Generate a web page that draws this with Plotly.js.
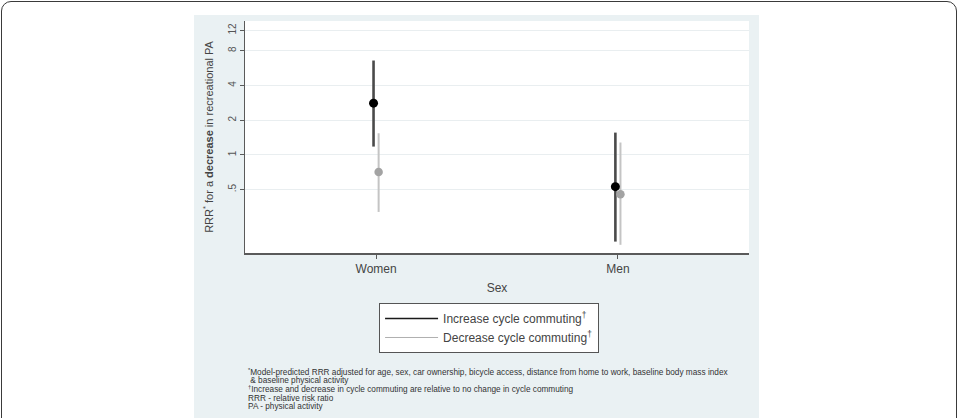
<!DOCTYPE html>
<html>
<head>
<meta charset="utf-8">
<script src="https://cdn.plot.ly/plotly-3.0.1.min.js"></script>
<style>
  html, body { margin: 0; padding: 0; background: #ffffff; width: 959px; height: 418px; overflow: hidden; }
  #frame { position: absolute; left: 1px; top: 1px; width: 954px; height: 440px; border: 1.5px solid #3a3a3a; border-radius: 10px; }
  #chart { position: absolute; left: 194px; top: 15px; width: 565px; height: 403px; }
</style>
</head>
<body>
<div id="frame"></div>
<div id="chart"></div>
<script>
// ---- data ----
const categories = ['Women', 'Men'];
const seriesNames = ['Increase cycle commuting<sup>†</sup>', 'Decrease cycle commuting<sup>†</sup>'];
const increaseEst = [2.81, 0.53];
const increaseLo  = [1.18, 0.177];
const increaseHi  = [6.58, 1.56];
const decreaseEst = [0.71, 0.456];
const decreaseLo  = [0.32, 0.166];
const decreaseHi  = [1.54, 1.28];
const yTickVals = [0.5, 1, 2, 4, 8, 12];
const yTickText = ['.5', '1', '2', '4', '8', '12'];
const footnotes = [
  '<sup>*</sup>Model-predicted RRR adjusted for age, sex, car ownership, bicycle access, distance from home to work, baseline body mass index',
  ' & baseline physical activity',
  '<sup>†</sup>Increase and decrease in cycle commuting are relative to no change in cycle commuting',
  'RRR - relative risk ratio',
  'PA - physical activity'
];

// ---- styling ----
const dodge = 0.0105;
const catPos = categories.map((c, i) => i + 1);

function ciTrace(name, lo, hi, off, color, width) {
  const x = [], y = [];
  catPos.forEach((p, i) => { x.push(p + off, p + off, null); y.push(lo[i], hi[i], null); });
  return { type: 'scatter', mode: 'lines', name: name, x: x, y: y,
    line: { color: color, width: width }, showlegend: false, hoverinfo: 'skip' };
}
function ptTrace(name, est, off, color, size) {
  return { type: 'scatter', mode: 'markers', name: name, x: catPos.map(p => p + off), y: est,
    marker: { color: color, size: size }, showlegend: false };
}
function legendTrace(name, color, width) {
  return { type: 'scatter', mode: 'lines', name: name, x: [null], y: [null],
    line: { color: color, width: width }, showlegend: true };
}

const traces = [
  ciTrace(seriesNames[0], increaseLo, increaseHi, -dodge, '#4a4a4a', 2.6),
  ciTrace(seriesNames[1], decreaseLo, decreaseHi, dodge, '#c4c4c4', 2),
  ptTrace(seriesNames[0], increaseEst, -dodge, '#000000', 9),
  ptTrace(seriesNames[1], decreaseEst, dodge, '#a3a3a3', 8.5),
  legendTrace(seriesNames[0], '#1a1a1a', 1.6),
  legendTrace(seriesNames[1], '#b0b0b0', 1)
];

const fnX = 0.002, fnTopPx = 357 - 238, fnStep = 8.7;
const annotations = footnotes.map((t, i) => ({
  text: t, xref: 'paper', yref: 'paper', x: fnX, y: 0, xanchor: 'left', yanchor: 'middle',
  yshift: -(fnTopPx + i * fnStep), showarrow: false, align: 'left',
  font: { family: 'Liberation Sans, Arial, sans-serif', size: 8.25, color: '#333333' }
}));

const layout = {
  width: 565, height: 403,
  margin: { l: 51, r: 10, t: 6, b: 165 },
  paper_bgcolor: '#eaf1f3',
  plot_bgcolor: '#ffffff',
  font: { family: 'Liberation Sans, Arial, sans-serif', color: '#444444' },
  showlegend: true,
  xaxis: {
    range: [0.458, 2.542], tickvals: catPos, ticktext: categories,
    showgrid: false, zeroline: false, showline: true, linecolor: '#5a5a5a', linewidth: 1.5,
    ticks: 'outside', ticklen: 4, tickcolor: '#5a5a5a', tickfont: { size: 12, color: '#444444' },
    title: { text: 'Sex', font: { size: 12, color: '#444444' }, standoff: 8 }
  },
  yaxis: {
    type: 'log', range: [-0.851, 1.161], tickvals: yTickVals, ticktext: yTickText, tickangle: -90,
    showgrid: true, gridcolor: '#e9eef0', gridwidth: 1, zeroline: false,
    showline: true, linecolor: '#5a5a5a', linewidth: 1,
    ticks: 'outside', ticklen: 4, tickcolor: '#5a5a5a', tickfont: { size: 10, color: '#555555' },
    title: { text: 'RRR<sup>*</sup> for a <b>decrease</b> in recreational PA', font: { size: 11, color: '#444444' }, standoff: 11 }
  },
  legend: {
    x: 0.266, xanchor: 'left', y: -0.2155, yanchor: 'top',
    bgcolor: '#ffffff', bordercolor: '#555555', borderwidth: 1,
    font: { size: 12, color: '#444444' }, itemwidth: 53, tracegroupgap: 0
  },
  annotations: annotations
};

Plotly.newPlot('chart', traces, layout, { displayModeBar: false, staticPlot: true });
</script>
</body>
</html>
